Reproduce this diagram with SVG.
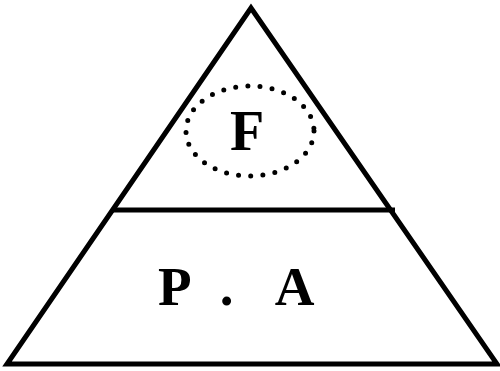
<svg xmlns="http://www.w3.org/2000/svg" width="500" height="371" viewBox="0 0 500 371">
<style>
.ln{stroke:#000;stroke-width:5;fill:none;stroke-linejoin:miter}
.t{font-family:'Liberation Serif','Times New Roman',Times,serif;font-weight:700;fill:#000}
</style>
<rect width="500" height="371" fill="#fff"/>
<g id="connectors">
<polygon class="ln" points="251,8 7,364 497,364"/>
<line class="ln" x1="113" y1="210" x2="395" y2="210"/>
</g>
<g id="node-F">
<ellipse cx="250" cy="131" rx="64" ry="45" fill="none" stroke="#000" stroke-width="5" stroke-linecap="round" stroke-dasharray="0 12.2"/>
<text class="t" x="247" y="150" font-size="56" text-anchor="middle">F</text>
</g>
<g id="node-PA">
<text class="t" font-size="55" y="305"><tspan x="158">P</tspan><tspan x="206"> .</tspan><tspan x="264"> A</tspan></text>
</g>
</svg>
